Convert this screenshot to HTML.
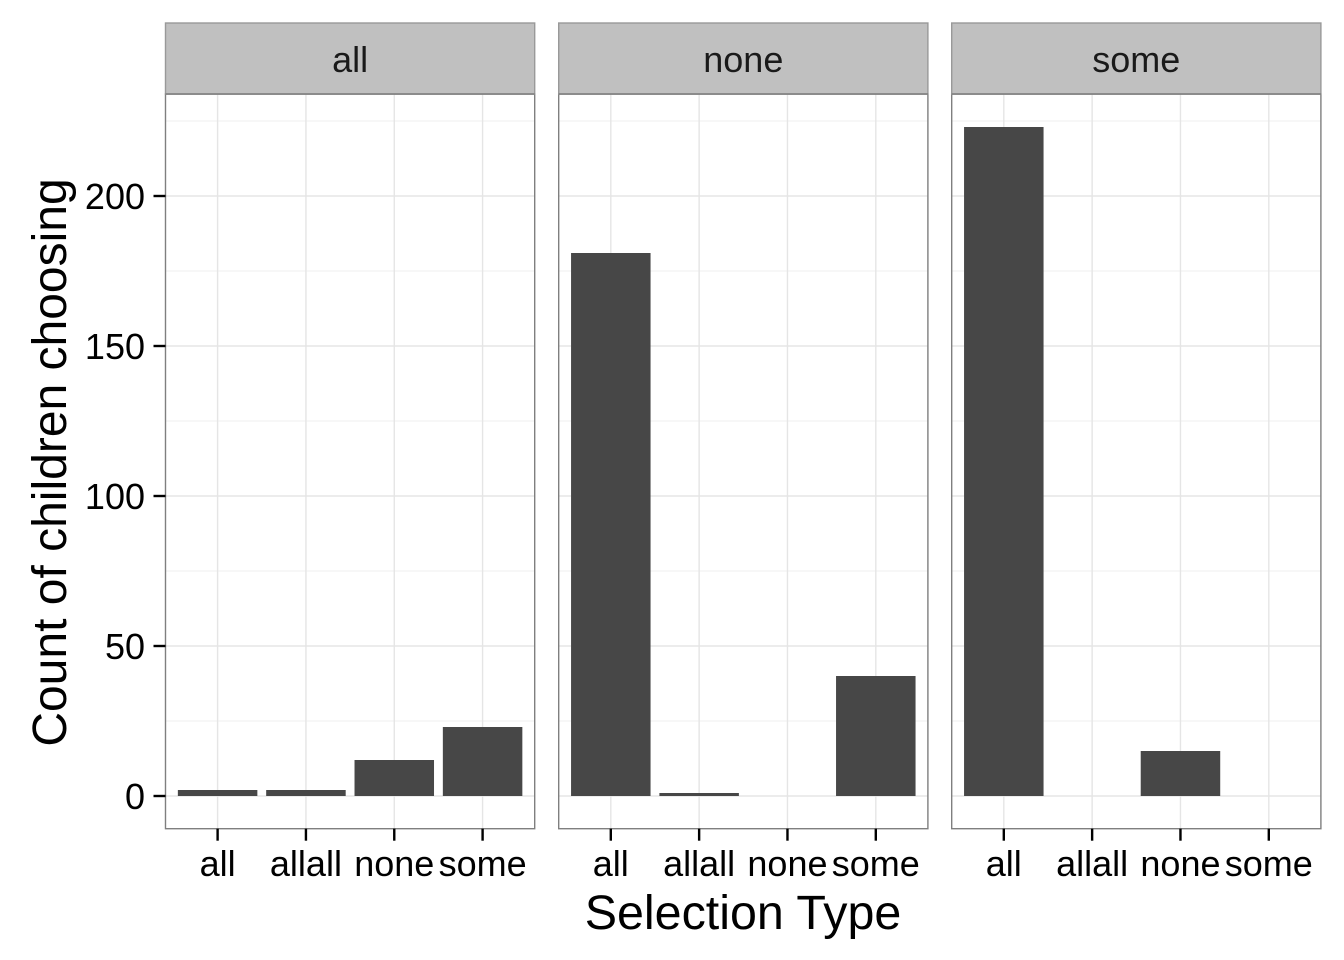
<!DOCTYPE html>
<html lang="en">
<head>
<meta charset="utf-8">
<title>Count of children choosing by selection type</title>
<style>
html,body{margin:0;padding:0;background:#fff;width:1344px;height:960px;overflow:hidden}
svg{display:block}
text{font-family:"Liberation Sans",Arial,sans-serif}
</style>
</head>
<body>
<svg id="chart" xmlns="http://www.w3.org/2000/svg" width="1344" height="960" viewBox="0 0 1344 960">
  <rect x="0" y="0" width="1344" height="960" fill="#ffffff"/>
  <text transform="translate(66,462.5) rotate(-90)" text-anchor="middle" font-size="48" fill="#000">Count of children choosing</text>
  <text x="743" y="929" text-anchor="middle" font-size="48.4" fill="#000">Selection Type</text>
</svg>
<script>
const facets = ["all", "none", "some"];
const categories = ["all", "allall", "none", "some"];
const valuesAll = [2, 2, 12, 23];
const valuesNone = [181, 1, 0, 40];
const valuesSome = [223, 0, 15, 0];
const yTicks = [0, 50, 100, 150, 200];
const yMinorTicks = [25, 75, 125, 175, 225];

const seriesByFacet = [valuesAll, valuesNone, valuesSome];
const svg = document.getElementById('chart');
const NS = 'http://www.w3.org/2000/svg';
const panelLefts = [165.5, 558.7, 951.7];
const panelWidth = 369.2;
const panelTop = 94;
const panelBottom = 828.7;
const stripTop = 23;
const zeroY = 796;
const unitPx = 3;
const stepPx = 88.33;
const barWidth = 79.5;

function yScale(v) { return zeroY - v * unitPx; }
function xScale(panelIndex, catIndex) {
  const mid = panelLefts[panelIndex] + panelWidth / 2;
  return mid + (catIndex - (categories.length - 1) / 2) * stepPx;
}
function make(tag, props, text) {
  const el = document.createElementNS(NS, tag);
  for (const k in props) el.setAttribute(k, props[k]);
  if (text !== undefined) el.textContent = text;
  svg.appendChild(el);
  return el;
}

facets.forEach(function (facet, p) {
  const left = panelLefts[p];
  const right = left + panelWidth;

  const bg = make('rect', {x: left, y: panelTop, width: panelWidth, height: panelBottom - panelTop, fill: '#fff'});
  
  

  yMinorTicks.forEach(function (t) {
    const g = make('line', {x1: left, x2: right, y1: yScale(t), y2: yScale(t), stroke: '#f2f2f2', 'stroke-width': 1.2});
    
    
  });
  yTicks.forEach(function (t) {
    const g = make('line', {x1: left, x2: right, y1: yScale(t), y2: yScale(t), stroke: '#e5e5e5', 'stroke-width': 1.4});
    
    
  });
  categories.forEach(function (c, i) {
    const x = xScale(p, i);
    const g = make('line', {x1: x, x2: x, y1: panelTop, y2: panelBottom, stroke: '#e5e5e5', 'stroke-width': 1.4});
    
    
  });

  seriesByFacet[p].forEach(function (v, i) {
    const bar = make('rect', {x: xScale(p, i) - barWidth / 2, y: yScale(v), width: barWidth, height: zeroY - yScale(v), fill: '#474747'});
    
    
  });

  const border = make('rect', {x: left, y: panelTop, width: panelWidth, height: panelBottom - panelTop, fill: 'none', stroke: '#7f7f7f', 'stroke-width': 1.4});
  
  

  const strip = make('rect', {x: left, y: stripTop, width: panelWidth, height: panelTop - stripTop, fill: '#c0c0c0', stroke: '#999999', 'stroke-width': 1.4});
  
  

  const stripLine = make('line', {x1: left, x2: right, y1: panelTop, y2: panelTop, stroke: '#7f7f7f', 'stroke-width': 1.4});
  
  

  const stripLabel = make('text', {x: left + panelWidth / 2, y: 72, 'text-anchor': 'middle', 'font-size': 36, fill: '#1a1a1a'}, facet);
  
  

  categories.forEach(function (c, i) {
    const x = xScale(p, i);
    const tick = make('line', {x1: x, x2: x, y1: panelBottom, y2: panelBottom + 12, stroke: '#000', 'stroke-width': 2.4});
    
    
    const label = make('text', {x: x, y: 876, 'text-anchor': 'middle', 'font-size': 36, fill: '#000'}, c);
    
    
  });
});

yTicks.forEach(function (t) {
  const y = yScale(t);
  const tick = make('line', {x1: panelLefts[0] - 12, x2: panelLefts[0], y1: y, y2: y, stroke: '#000', 'stroke-width': 2.4});
  
  
  const label = make('text', {x: 145, y: y + 13, 'text-anchor': 'end', 'font-size': 36, fill: '#000'}, String(t));
  
  
});
</script>
</body>
</html>
